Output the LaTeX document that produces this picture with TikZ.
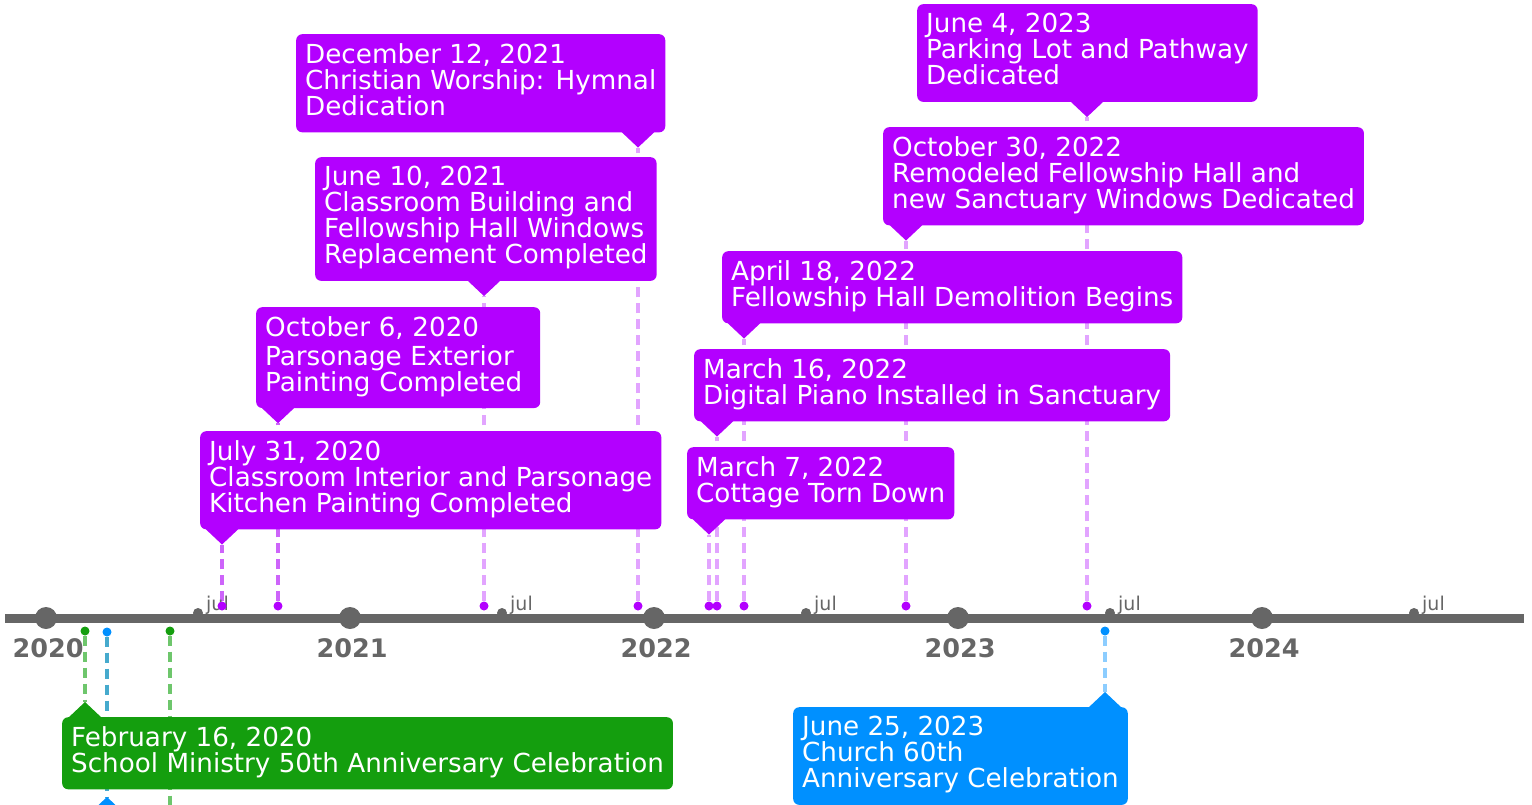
\documentclass[tikz,border=0pt]{standalone}
\usepackage{fontspec}
\setmainfont{DejaVu Sans}
\usepackage{xcolor}
\usepackage{tikz}
\usetikzlibrary{calc}
\usetikzlibrary{backgrounds}

\definecolor{evpurple}{RGB}{179,0,255}
\definecolor{lnpurple}{RGB}{226,164,255}
\definecolor{lnpurpledk}{RGB}{205,100,250}
\definecolor{evgreen}{RGB}{20,158,14}
\definecolor{lngreen}{RGB}{110,198,108}
\definecolor{evblue}{RGB}{0,144,255}
\definecolor{lnblue}{RGB}{140,205,255}
\definecolor{lnteal}{RGB}{70,170,205}
\definecolor{axisgray}{RGB}{102,102,102}

\tikzset{
	evbox/.style={fill=#1, text=white, rounded corners=6pt, align=left, inner xsep=9pt, inner ysep=9.2pt, anchor=north west, font=\fontsize{26.2}{26}\selectfont, execute at begin node=\strut, execute at end node=\strut},
	evbox/.default=evpurple,
	evdot/.style={circle, fill=#1, inner sep=0pt, minimum size=9pt},
	evdot/.default=evpurple,
	evline/.style={#1, line width=4pt, dash pattern=on 10pt off 6pt},
	evline/.default=lnpurple,
	yearlbl/.style={font=\fontsize{25.5}{26}\selectfont\bfseries, text=axisgray, anchor=base, inner sep=0pt},
	jullbl/.style={font=\fontsize{19}{20}\selectfont, text=axisgray, anchor=base west, inner sep=0pt}
}

\begin{document}
\begin{tikzpicture}[x=1pt,y=-1pt]
	\useasboundingbox (0,0) rectangle (1532,804);
	% time axis
	\draw[axisgray, line width=9pt] (5,618) -- (1524,618);
	\foreach \yr [count=\i from 0] in {2020,2021,2022,2023,2024}{
		\fill[axisgray] (46+304*\i,618) circle (11pt);
		\fill[axisgray] (198+304*\i,613) circle (5pt);
		\node[yearlbl] (y\yr) at (48+304*\i,657) {\yr};
		\node[jullbl] (j\yr) at (206+304*\i,610) {jul};
	}
	% event dots
	\node[evdot] (djul20) at (222,606) {};
	\node[evdot] (doct20) at (278,606) {};
	\node[evdot] (djun21) at (484,606) {};
	\node[evdot] (ddec21) at (638,606) {};
	\node[evdot] (dmar7) at (709,606) {};
	\node[evdot] (dmar16) at (717,606) {};
	\node[evdot] (dapr22) at (744,606) {};
	\node[evdot] (doct22) at (906,606) {};
	\node[evdot] (djun23) at (1087,606) {};
	\node[evdot=evgreen] (dfeb20) at (85,631) {};
	\node[evdot=evgreen] (dmay20) at (170,631) {};
	\node[evdot=evblue] (dmar20) at (107,632) {};
	\node[evdot=evblue] (djun25) at (1105,631) {};
	% callouts above
	\node[evbox] (dec21) at (296,34) {December 12, 2021\\Christian Worship: Hymnal\\Dedication};
	\node[evbox] (jun21) at (315,157) {June 10, 2021\\Classroom Building and\\Fellowship Hall Windows\\Replacement Completed};
	\node[evbox, text width=266pt] (oct20) at (256,307) {October 6, 2020\\Parsonage Exterior\\Painting Completed};
	\node[evbox] (jul20) at (200,431) {July 31, 2020\\Classroom Interior and Parsonage\\Kitchen Painting Completed};
	\node[evbox] (jun23) at (917,4) {June 4, 2023\\Parking Lot and Pathway\\Dedicated};
	\node[evbox] (oct22) at (883,127) {October 30, 2022\\Remodeled Fellowship Hall and\\new Sanctuary Windows Dedicated};
	\node[evbox] (apr22) at (722,251) {April 18, 2022\\Fellowship Hall Demolition Begins};
	\node[evbox] (mar16) at (694,349) {March 16, 2022\\Digital Piano Installed in Sanctuary};
	\node[evbox] (mar7) at (687,447) {March 7, 2022\\Cottage Torn Down};
	% callouts below
	\node[evbox=evgreen] (feb20) at (62,717) {February 16, 2020\\School Ministry 50th Anniversary Celebration};
	\node[evbox=evblue] (jun25) at (793,707) {June 25, 2023\\Church 60th\\Anniversary Celebration};
	% pointer tips
	\foreach \ev in {dec21,jun21,oct20,jul20,jun23,oct22,apr22,mar16,mar7}{
		\coordinate (t\ev) at ($(\ev.south -| d\ev)+(0,15)$);
		\fill[evpurple] (t\ev) -- ++(-17,-16) -- ++(34,0) -- cycle;
	}
	\coordinate (tfeb20) at ($(feb20.north -| dfeb20)+(0,-15)$);
	\fill[evgreen] (tfeb20) -- ++(-17,16) -- ++(34,0) -- cycle;
	\coordinate (tjun25) at ($(jun25.north -| djun25)+(0,-15)$);
	\fill[evblue] (tjun25) -- ++(-17,16) -- ++(34,0) -- cycle;
	\coordinate (tmar20) at (107,797);
	\fill[evblue] (tmar20) -- ++(-17,16) -- ++(34,0) -- cycle;
	\coordinate (tmay20) at (170,812);
	% dashed leaders
	\begin{scope}[on background layer]
		\foreach \ev in {dec21,jun21,jun23,oct22,apr22,mar16,mar7}
			\draw[evline] (d\ev) -- (t\ev);
		\draw[evline=lnpurpledk] (djul20) -- (tjul20);
		\draw[evline=lnpurpledk] (doct20) -- (toct20);
		\draw[evline=lngreen] (dfeb20) -- (tfeb20);
		\draw[evline=lngreen] (dmay20) -- (tmay20);
		\draw[evline=lnteal] (dmar20) -- (tmar20);
		\draw[evline=lnblue] (djun25) -- (tjun25);
	\end{scope}
\end{tikzpicture}
\end{document}
